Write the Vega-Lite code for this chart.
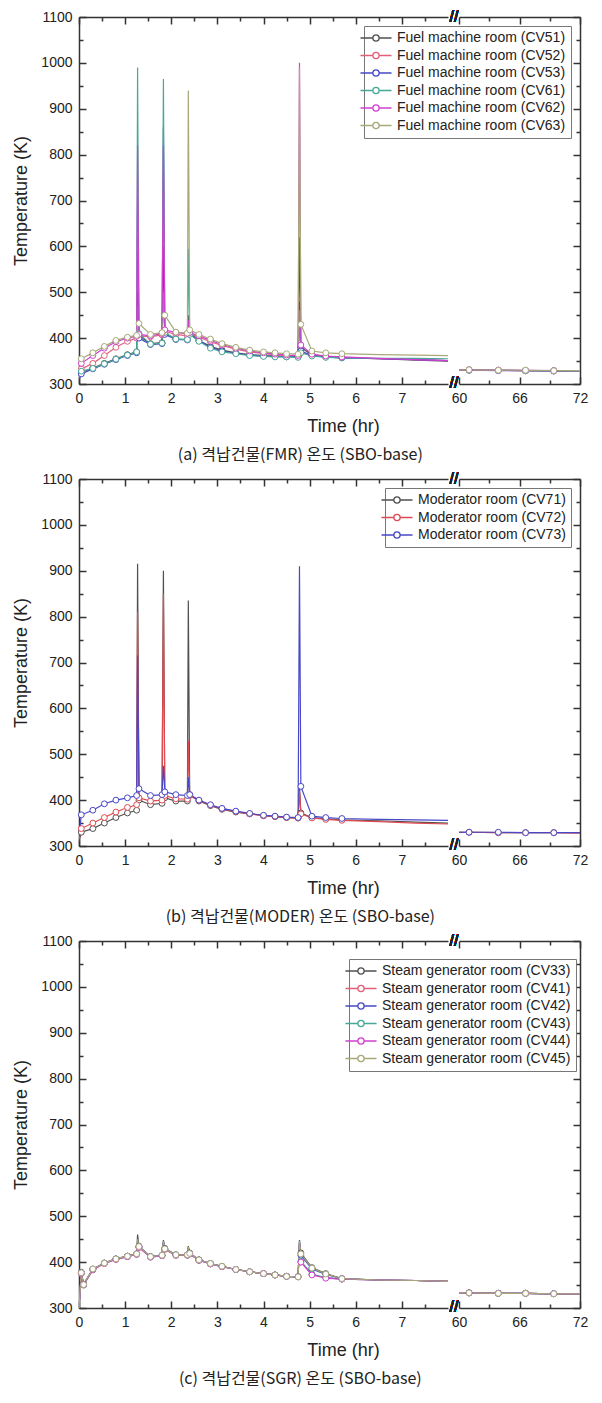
{
"$schema": "https://vega.github.io/schema/vega-lite/v6.json",
"padding": {"top": 9, "left": 12, "right": 20, "bottom": 5},
"config": {
  "font": "Liberation Sans",
  "view": {"stroke": null},
  "axis": {"labelFont": "Liberation Sans", "titleFont": "Liberation Sans", "labelFontSize": 14, "titleFontSize": 18, "titleFontWeight": "normal", "labelColor": "#222", "titleColor": "#222", "domainColor": "#333", "tickColor": "#333", "domainWidth": 1.5, "tickWidth": 1.5, "grid": false, "labelFlush": false, "labelOverlap": false, "labelPadding": 14},
  "legend": {"labelFont": "Liberation Sans", "labelFontSize": 14, "labelColor": "#222", "labelLimit": 400, "title": null, "symbolType": "M-3,0H-0.6M0.6,0H3M-0.6,0A0.6,0.6 0 1,0 0.6,0A0.6,0.6 0 1,0 -0.6,0", "symbolSize": 107, "symbolStrokeWidth": 1.3, "symbolFillColor": "white", "rowPadding": 3.5, "padding": 5, "strokeColor": "#777", "fillColor": "white", "labelOffset": 14},
  "title": {"font": "Noto Sans CJK KR", "fontSize": 16, "fontWeight": "normal", "color": "#222"}
},
"datasets": {
"a": [
{"s":"CV51","t":0,"T":312},{"s":"CV51","t":0.05,"T":325},{"s":"CV51","t":0.3,"T":335},{"s":"CV51","t":0.55,"T":345},{"s":"CV51","t":0.8,"T":355},{"s":"CV51","t":1.05,"T":364},{"s":"CV51","t":1.25,"T":370},{"s":"CV51","t":1.27,"T":500,"k":"p"},{"s":"CV51","t":1.3,"T":405},{"s":"CV51","t":1.55,"T":388},{"s":"CV51","t":1.8,"T":390},{"s":"CV51","t":1.83,"T":600,"k":"p"},{"s":"CV51","t":1.86,"T":410},{"s":"CV51","t":2.1,"T":398},{"s":"CV51","t":2.35,"T":397},{"s":"CV51","t":2.37,"T":450,"k":"p"},{"s":"CV51","t":2.4,"T":412},{"s":"CV51","t":2.6,"T":395},{"s":"CV51","t":2.85,"T":382},{"s":"CV51","t":3.1,"T":374},{"s":"CV51","t":3.4,"T":368},{"s":"CV51","t":3.7,"T":364},{"s":"CV51","t":4.0,"T":362},{"s":"CV51","t":4.25,"T":361},{"s":"CV51","t":4.5,"T":360},{"s":"CV51","t":4.75,"T":360},{"s":"CV51","t":4.78,"T":620,"k":"p"},{"s":"CV51","t":4.81,"T":380},{"s":"CV51","t":5.05,"T":363},{"s":"CV51","t":5.35,"T":360},{"s":"CV51","t":5.7,"T":358},{"s":"CV51","t":6.5,"T":355},{"s":"CV51","t":7.3,"T":352},{"s":"CV51","t":8,"T":350},{"s":"CV51","t":60,"T":331},{"s":"CV51","t":61,"T":331},{"s":"CV51","t":63.9,"T":330},{"s":"CV51","t":66.6,"T":329},{"s":"CV51","t":69.4,"T":329},{"s":"CV51","t":72,"T":328},
{"s":"CV52","t":0,"T":318},{"s":"CV52","t":0.05,"T":333},{"s":"CV52","t":0.3,"T":345},{"s":"CV52","t":0.55,"T":362},{"s":"CV52","t":0.8,"T":380},{"s":"CV52","t":1.05,"T":393},{"s":"CV52","t":1.25,"T":400},{"s":"CV52","t":1.27,"T":470,"k":"p"},{"s":"CV52","t":1.3,"T":405},{"s":"CV52","t":1.55,"T":403},{"s":"CV52","t":1.8,"T":407},{"s":"CV52","t":1.83,"T":500,"k":"p"},{"s":"CV52","t":1.86,"T":415},{"s":"CV52","t":2.1,"T":408},{"s":"CV52","t":2.35,"T":405},{"s":"CV52","t":2.37,"T":420,"k":"p"},{"s":"CV52","t":2.4,"T":410},{"s":"CV52","t":2.6,"T":402},{"s":"CV52","t":2.85,"T":392},{"s":"CV52","t":3.1,"T":384},{"s":"CV52","t":3.4,"T":376},{"s":"CV52","t":3.7,"T":370},{"s":"CV52","t":4.0,"T":366},{"s":"CV52","t":4.25,"T":364},{"s":"CV52","t":4.5,"T":362},{"s":"CV52","t":4.75,"T":361},{"s":"CV52","t":4.78,"T":440,"k":"p"},{"s":"CV52","t":4.81,"T":370},{"s":"CV52","t":5.05,"T":362},{"s":"CV52","t":5.35,"T":359},{"s":"CV52","t":5.7,"T":357},{"s":"CV52","t":6.5,"T":355},{"s":"CV52","t":7.3,"T":353},{"s":"CV52","t":8,"T":351},{"s":"CV52","t":60,"T":331},{"s":"CV52","t":61,"T":330},{"s":"CV52","t":63.9,"T":330},{"s":"CV52","t":66.6,"T":329},{"s":"CV52","t":69.4,"T":329},{"s":"CV52","t":72,"T":328},
{"s":"CV53","t":0,"T":310},{"s":"CV53","t":0.05,"T":322},{"s":"CV53","t":0.3,"T":333},{"s":"CV53","t":0.55,"T":343},{"s":"CV53","t":0.8,"T":353},{"s":"CV53","t":1.05,"T":362},{"s":"CV53","t":1.25,"T":368},{"s":"CV53","t":1.27,"T":700,"k":"p"},{"s":"CV53","t":1.3,"T":400},{"s":"CV53","t":1.55,"T":386},{"s":"CV53","t":1.8,"T":388},{"s":"CV53","t":1.83,"T":860,"k":"p"},{"s":"CV53","t":1.86,"T":408},{"s":"CV53","t":2.1,"T":397},{"s":"CV53","t":2.35,"T":396},{"s":"CV53","t":2.37,"T":430,"k":"p"},{"s":"CV53","t":2.4,"T":410},{"s":"CV53","t":2.6,"T":394},{"s":"CV53","t":2.85,"T":380},{"s":"CV53","t":3.1,"T":372},{"s":"CV53","t":3.4,"T":367},{"s":"CV53","t":3.7,"T":363},{"s":"CV53","t":4.0,"T":361},{"s":"CV53","t":4.25,"T":360},{"s":"CV53","t":4.5,"T":359},{"s":"CV53","t":4.75,"T":359},{"s":"CV53","t":4.78,"T":480,"k":"p"},{"s":"CV53","t":4.81,"T":372},{"s":"CV53","t":5.05,"T":362},{"s":"CV53","t":5.35,"T":359},{"s":"CV53","t":5.7,"T":357},{"s":"CV53","t":6.5,"T":355},{"s":"CV53","t":7.3,"T":353},{"s":"CV53","t":8,"T":351},{"s":"CV53","t":60,"T":330},{"s":"CV53","t":61,"T":330},{"s":"CV53","t":63.9,"T":329},{"s":"CV53","t":66.6,"T":329},{"s":"CV53","t":69.4,"T":328},{"s":"CV53","t":72,"T":328},
{"s":"CV61","t":0,"T":315},{"s":"CV61","t":0.05,"T":328},{"s":"CV61","t":0.3,"T":334},{"s":"CV61","t":0.55,"T":344},{"s":"CV61","t":0.8,"T":354},{"s":"CV61","t":1.05,"T":363},{"s":"CV61","t":1.25,"T":370},{"s":"CV61","t":1.27,"T":990,"k":"p"},{"s":"CV61","t":1.3,"T":410},{"s":"CV61","t":1.55,"T":387},{"s":"CV61","t":1.8,"T":389},{"s":"CV61","t":1.83,"T":965,"k":"p"},{"s":"CV61","t":1.86,"T":412},{"s":"CV61","t":2.1,"T":398},{"s":"CV61","t":2.35,"T":397},{"s":"CV61","t":2.37,"T":595,"k":"p"},{"s":"CV61","t":2.4,"T":408},{"s":"CV61","t":2.6,"T":393},{"s":"CV61","t":2.85,"T":378},{"s":"CV61","t":3.1,"T":370},{"s":"CV61","t":3.4,"T":366},{"s":"CV61","t":3.7,"T":362},{"s":"CV61","t":4.0,"T":360},{"s":"CV61","t":4.25,"T":359},{"s":"CV61","t":4.5,"T":359},{"s":"CV61","t":4.75,"T":358},{"s":"CV61","t":4.78,"T":460,"k":"p"},{"s":"CV61","t":4.81,"T":368},{"s":"CV61","t":5.05,"T":361},{"s":"CV61","t":5.35,"T":358},{"s":"CV61","t":5.7,"T":357},{"s":"CV61","t":6.5,"T":356},{"s":"CV61","t":7.3,"T":356},{"s":"CV61","t":8,"T":355},{"s":"CV61","t":60,"T":330},{"s":"CV61","t":61,"T":330},{"s":"CV61","t":63.9,"T":330},{"s":"CV61","t":66.6,"T":329},{"s":"CV61","t":69.4,"T":329},{"s":"CV61","t":72,"T":328},
{"s":"CV62","t":0,"T":335},{"s":"CV62","t":0.05,"T":345},{"s":"CV62","t":0.3,"T":362},{"s":"CV62","t":0.55,"T":378},{"s":"CV62","t":0.8,"T":392},{"s":"CV62","t":1.05,"T":400},{"s":"CV62","t":1.25,"T":404},{"s":"CV62","t":1.27,"T":820,"k":"p"},{"s":"CV62","t":1.3,"T":408},{"s":"CV62","t":1.55,"T":405},{"s":"CV62","t":1.8,"T":410},{"s":"CV62","t":1.83,"T":820,"k":"p"},{"s":"CV62","t":1.86,"T":418},{"s":"CV62","t":2.1,"T":412},{"s":"CV62","t":2.35,"T":410},{"s":"CV62","t":2.37,"T":440,"k":"p"},{"s":"CV62","t":2.4,"T":412},{"s":"CV62","t":2.6,"T":405},{"s":"CV62","t":2.85,"T":395},{"s":"CV62","t":3.1,"T":386},{"s":"CV62","t":3.4,"T":378},{"s":"CV62","t":3.7,"T":372},{"s":"CV62","t":4.0,"T":368},{"s":"CV62","t":4.25,"T":365},{"s":"CV62","t":4.5,"T":363},{"s":"CV62","t":4.75,"T":362},{"s":"CV62","t":4.78,"T":1000,"k":"p"},{"s":"CV62","t":4.81,"T":385},{"s":"CV62","t":5.05,"T":365},{"s":"CV62","t":5.35,"T":361},{"s":"CV62","t":5.7,"T":359},{"s":"CV62","t":6.5,"T":356},{"s":"CV62","t":7.3,"T":353},{"s":"CV62","t":8,"T":351},{"s":"CV62","t":60,"T":331},{"s":"CV62","t":61,"T":331},{"s":"CV62","t":63.9,"T":330},{"s":"CV62","t":66.6,"T":330},{"s":"CV62","t":69.4,"T":329},{"s":"CV62","t":72,"T":329},
{"s":"CV63","t":0,"T":345},{"s":"CV63","t":0.05,"T":355},{"s":"CV63","t":0.3,"T":368},{"s":"CV63","t":0.55,"T":382},{"s":"CV63","t":0.8,"T":395},{"s":"CV63","t":1.05,"T":402},{"s":"CV63","t":1.25,"T":406},{"s":"CV63","t":1.27,"T":430,"k":"p"},{"s":"CV63","t":1.3,"T":432},{"s":"CV63","t":1.55,"T":408},{"s":"CV63","t":1.8,"T":412},{"s":"CV63","t":1.83,"T":440,"k":"p"},{"s":"CV63","t":1.86,"T":450},{"s":"CV63","t":2.1,"T":413},{"s":"CV63","t":2.35,"T":411},{"s":"CV63","t":2.37,"T":940,"k":"p"},{"s":"CV63","t":2.4,"T":418},{"s":"CV63","t":2.6,"T":408},{"s":"CV63","t":2.85,"T":398},{"s":"CV63","t":3.1,"T":388},{"s":"CV63","t":3.4,"T":380},{"s":"CV63","t":3.7,"T":374},{"s":"CV63","t":4.0,"T":370},{"s":"CV63","t":4.25,"T":368},{"s":"CV63","t":4.5,"T":366},{"s":"CV63","t":4.75,"T":365},{"s":"CV63","t":4.78,"T":990,"k":"p"},{"s":"CV63","t":4.81,"T":430},{"s":"CV63","t":5.05,"T":372},{"s":"CV63","t":5.35,"T":368},{"s":"CV63","t":5.7,"T":366},{"s":"CV63","t":6.5,"T":364},{"s":"CV63","t":7.3,"T":363},{"s":"CV63","t":8,"T":362},{"s":"CV63","t":60,"T":331},{"s":"CV63","t":61,"T":331},{"s":"CV63","t":63.9,"T":330},{"s":"CV63","t":66.6,"T":330},{"s":"CV63","t":69.4,"T":329},{"s":"CV63","t":72,"T":329}
],
"b": [
{"s":"CV71","t":0,"T":310},{"s":"CV71","t":0.05,"T":330},{"s":"CV71","t":0.3,"T":338},{"s":"CV71","t":0.55,"T":350},{"s":"CV71","t":0.8,"T":362},{"s":"CV71","t":1.05,"T":372},{"s":"CV71","t":1.25,"T":378},{"s":"CV71","t":1.27,"T":915,"k":"p"},{"s":"CV71","t":1.3,"T":400},{"s":"CV71","t":1.55,"T":390},{"s":"CV71","t":1.8,"T":393},{"s":"CV71","t":1.83,"T":900,"k":"p"},{"s":"CV71","t":1.86,"T":405},{"s":"CV71","t":2.1,"T":398},{"s":"CV71","t":2.35,"T":398},{"s":"CV71","t":2.37,"T":835,"k":"p"},{"s":"CV71","t":2.4,"T":412},{"s":"CV71","t":2.6,"T":398},{"s":"CV71","t":2.85,"T":388},{"s":"CV71","t":3.1,"T":380},{"s":"CV71","t":3.4,"T":374},{"s":"CV71","t":3.7,"T":370},{"s":"CV71","t":4.0,"T":366},{"s":"CV71","t":4.25,"T":364},{"s":"CV71","t":4.5,"T":362},{"s":"CV71","t":4.75,"T":361},{"s":"CV71","t":4.78,"T":430,"k":"p"},{"s":"CV71","t":4.81,"T":372},{"s":"CV71","t":5.05,"T":362},{"s":"CV71","t":5.35,"T":359},{"s":"CV71","t":5.7,"T":357},{"s":"CV71","t":6.5,"T":355},{"s":"CV71","t":7.3,"T":352},{"s":"CV71","t":8,"T":350},{"s":"CV71","t":60,"T":330},{"s":"CV71","t":61,"T":330},{"s":"CV71","t":63.9,"T":329},{"s":"CV71","t":66.6,"T":329},{"s":"CV71","t":69.4,"T":329},{"s":"CV71","t":72,"T":329},
{"s":"CV72","t":0,"T":315},{"s":"CV72","t":0.05,"T":338},{"s":"CV72","t":0.3,"T":350},{"s":"CV72","t":0.55,"T":362},{"s":"CV72","t":0.8,"T":374},{"s":"CV72","t":1.05,"T":384},{"s":"CV72","t":1.25,"T":390},{"s":"CV72","t":1.27,"T":810,"k":"p"},{"s":"CV72","t":1.3,"T":405},{"s":"CV72","t":1.55,"T":398},{"s":"CV72","t":1.8,"T":400},{"s":"CV72","t":1.83,"T":850,"k":"p"},{"s":"CV72","t":1.86,"T":410},{"s":"CV72","t":2.1,"T":403},{"s":"CV72","t":2.35,"T":402},{"s":"CV72","t":2.37,"T":530,"k":"p"},{"s":"CV72","t":2.4,"T":410},{"s":"CV72","t":2.6,"T":399},{"s":"CV72","t":2.85,"T":389},{"s":"CV72","t":3.1,"T":381},{"s":"CV72","t":3.4,"T":375},{"s":"CV72","t":3.7,"T":370},{"s":"CV72","t":4.0,"T":366},{"s":"CV72","t":4.25,"T":364},{"s":"CV72","t":4.5,"T":362},{"s":"CV72","t":4.75,"T":361},{"s":"CV72","t":4.78,"T":420,"k":"p"},{"s":"CV72","t":4.81,"T":370},{"s":"CV72","t":5.05,"T":361},{"s":"CV72","t":5.35,"T":358},{"s":"CV72","t":5.7,"T":356},{"s":"CV72","t":6.5,"T":353},{"s":"CV72","t":7.3,"T":350},{"s":"CV72","t":8,"T":348},{"s":"CV72","t":60,"T":330},{"s":"CV72","t":61,"T":330},{"s":"CV72","t":63.9,"T":329},{"s":"CV72","t":66.6,"T":329},{"s":"CV72","t":69.4,"T":329},{"s":"CV72","t":72,"T":328},
{"s":"CV73","t":0,"T":320},{"s":"CV73","t":0.05,"T":368},{"s":"CV73","t":0.3,"T":378},{"s":"CV73","t":0.55,"T":392},{"s":"CV73","t":0.8,"T":400},{"s":"CV73","t":1.05,"T":405},{"s":"CV73","t":1.25,"T":410},{"s":"CV73","t":1.27,"T":715,"k":"p"},{"s":"CV73","t":1.3,"T":425},{"s":"CV73","t":1.55,"T":410},{"s":"CV73","t":1.8,"T":412},{"s":"CV73","t":1.83,"T":475,"k":"p"},{"s":"CV73","t":1.86,"T":418},{"s":"CV73","t":2.1,"T":412},{"s":"CV73","t":2.35,"T":410},{"s":"CV73","t":2.37,"T":450,"k":"p"},{"s":"CV73","t":2.4,"T":412},{"s":"CV73","t":2.6,"T":400},{"s":"CV73","t":2.85,"T":390},{"s":"CV73","t":3.1,"T":382},{"s":"CV73","t":3.4,"T":376},{"s":"CV73","t":3.7,"T":371},{"s":"CV73","t":4.0,"T":367},{"s":"CV73","t":4.25,"T":365},{"s":"CV73","t":4.5,"T":363},{"s":"CV73","t":4.75,"T":362},{"s":"CV73","t":4.78,"T":910,"k":"p"},{"s":"CV73","t":4.81,"T":430},{"s":"CV73","t":5.05,"T":365},{"s":"CV73","t":5.35,"T":362},{"s":"CV73","t":5.7,"T":360},{"s":"CV73","t":6.5,"T":358},{"s":"CV73","t":7.3,"T":357},{"s":"CV73","t":8,"T":356},{"s":"CV73","t":60,"T":330},{"s":"CV73","t":61,"T":330},{"s":"CV73","t":63.9,"T":330},{"s":"CV73","t":66.6,"T":329},{"s":"CV73","t":69.4,"T":329},{"s":"CV73","t":72,"T":329}
],
"c": [
{"s":"CV33","t":0,"T":300},{"s":"CV33","t":0.05,"T":378},{"s":"CV33","t":0.1,"T":352},{"s":"CV33","t":0.3,"T":385},{"s":"CV33","t":0.55,"T":398},{"s":"CV33","t":0.8,"T":407},{"s":"CV33","t":1.05,"T":413},{"s":"CV33","t":1.25,"T":418},{"s":"CV33","t":1.27,"T":460,"k":"p"},{"s":"CV33","t":1.3,"T":435},{"s":"CV33","t":1.55,"T":412},{"s":"CV33","t":1.8,"T":415},{"s":"CV33","t":1.83,"T":448,"k":"p"},{"s":"CV33","t":1.86,"T":430},{"s":"CV33","t":2.1,"T":416},{"s":"CV33","t":2.35,"T":416},{"s":"CV33","t":2.37,"T":435,"k":"p"},{"s":"CV33","t":2.4,"T":420},{"s":"CV33","t":2.6,"T":405},{"s":"CV33","t":2.85,"T":397},{"s":"CV33","t":3.1,"T":391},{"s":"CV33","t":3.4,"T":384},{"s":"CV33","t":3.7,"T":379},{"s":"CV33","t":4.0,"T":375},{"s":"CV33","t":4.25,"T":372},{"s":"CV33","t":4.5,"T":369},{"s":"CV33","t":4.75,"T":368},{"s":"CV33","t":4.78,"T":448,"k":"p"},{"s":"CV33","t":4.81,"T":420},{"s":"CV33","t":5.05,"T":388},{"s":"CV33","t":5.35,"T":375},{"s":"CV33","t":5.7,"T":364},{"s":"CV33","t":6.5,"T":361},{"s":"CV33","t":7.3,"T":360},{"s":"CV33","t":8,"T":358},{"s":"CV33","t":60,"T":333},{"s":"CV33","t":61,"T":333},{"s":"CV33","t":63.9,"T":332},{"s":"CV33","t":66.6,"T":332},{"s":"CV33","t":69.4,"T":331},{"s":"CV33","t":72,"T":331},
{"s":"CV41","t":0,"T":300},{"s":"CV41","t":0.05,"T":375},{"s":"CV41","t":0.1,"T":350},{"s":"CV41","t":0.3,"T":383},{"s":"CV41","t":0.55,"T":397},{"s":"CV41","t":0.8,"T":406},{"s":"CV41","t":1.05,"T":412},{"s":"CV41","t":1.25,"T":417},{"s":"CV41","t":1.27,"T":440,"k":"p"},{"s":"CV41","t":1.3,"T":432},{"s":"CV41","t":1.55,"T":411},{"s":"CV41","t":1.8,"T":414},{"s":"CV41","t":1.83,"T":440,"k":"p"},{"s":"CV41","t":1.86,"T":428},{"s":"CV41","t":2.1,"T":415},{"s":"CV41","t":2.35,"T":415},{"s":"CV41","t":2.37,"T":430,"k":"p"},{"s":"CV41","t":2.4,"T":418},{"s":"CV41","t":2.6,"T":404},{"s":"CV41","t":2.85,"T":396},{"s":"CV41","t":3.1,"T":390},{"s":"CV41","t":3.4,"T":384},{"s":"CV41","t":3.7,"T":379},{"s":"CV41","t":4.0,"T":375},{"s":"CV41","t":4.25,"T":372},{"s":"CV41","t":4.5,"T":369},{"s":"CV41","t":4.75,"T":368},{"s":"CV41","t":4.78,"T":440,"k":"p"},{"s":"CV41","t":4.81,"T":400},{"s":"CV41","t":5.05,"T":373},{"s":"CV41","t":5.35,"T":366},{"s":"CV41","t":5.7,"T":363},{"s":"CV41","t":6.5,"T":361},{"s":"CV41","t":7.3,"T":360},{"s":"CV41","t":8,"T":358},{"s":"CV41","t":60,"T":333},{"s":"CV41","t":61,"T":333},{"s":"CV41","t":63.9,"T":332},{"s":"CV41","t":66.6,"T":332},{"s":"CV41","t":69.4,"T":331},{"s":"CV41","t":72,"T":331},
{"s":"CV42","t":0,"T":300},{"s":"CV42","t":0.05,"T":377},{"s":"CV42","t":0.1,"T":351},{"s":"CV42","t":0.3,"T":384},{"s":"CV42","t":0.55,"T":398},{"s":"CV42","t":0.8,"T":407},{"s":"CV42","t":1.05,"T":413},{"s":"CV42","t":1.25,"T":418},{"s":"CV42","t":1.27,"T":445,"k":"p"},{"s":"CV42","t":1.3,"T":434},{"s":"CV42","t":1.55,"T":412},{"s":"CV42","t":1.8,"T":415},{"s":"CV42","t":1.83,"T":445,"k":"p"},{"s":"CV42","t":1.86,"T":429},{"s":"CV42","t":2.1,"T":416},{"s":"CV42","t":2.35,"T":416},{"s":"CV42","t":2.37,"T":432,"k":"p"},{"s":"CV42","t":2.4,"T":419},{"s":"CV42","t":2.6,"T":405},{"s":"CV42","t":2.85,"T":397},{"s":"CV42","t":3.1,"T":391},{"s":"CV42","t":3.4,"T":384},{"s":"CV42","t":3.7,"T":379},{"s":"CV42","t":4.0,"T":375},{"s":"CV42","t":4.25,"T":372},{"s":"CV42","t":4.5,"T":369},{"s":"CV42","t":4.75,"T":368},{"s":"CV42","t":4.78,"T":445,"k":"p"},{"s":"CV42","t":4.81,"T":415},{"s":"CV42","t":5.05,"T":385},{"s":"CV42","t":5.35,"T":373},{"s":"CV42","t":5.7,"T":364},{"s":"CV42","t":6.5,"T":361},{"s":"CV42","t":7.3,"T":360},{"s":"CV42","t":8,"T":358},{"s":"CV42","t":60,"T":333},{"s":"CV42","t":61,"T":333},{"s":"CV42","t":63.9,"T":332},{"s":"CV42","t":66.6,"T":332},{"s":"CV42","t":69.4,"T":331},{"s":"CV42","t":72,"T":331},
{"s":"CV43","t":0,"T":300},{"s":"CV43","t":0.05,"T":376},{"s":"CV43","t":0.1,"T":350},{"s":"CV43","t":0.3,"T":384},{"s":"CV43","t":0.55,"T":398},{"s":"CV43","t":0.8,"T":407},{"s":"CV43","t":1.05,"T":412},{"s":"CV43","t":1.25,"T":417},{"s":"CV43","t":1.27,"T":442,"k":"p"},{"s":"CV43","t":1.3,"T":433},{"s":"CV43","t":1.55,"T":411},{"s":"CV43","t":1.8,"T":414},{"s":"CV43","t":1.83,"T":442,"k":"p"},{"s":"CV43","t":1.86,"T":428},{"s":"CV43","t":2.1,"T":415},{"s":"CV43","t":2.35,"T":415},{"s":"CV43","t":2.37,"T":431,"k":"p"},{"s":"CV43","t":2.4,"T":418},{"s":"CV43","t":2.6,"T":404},{"s":"CV43","t":2.85,"T":396},{"s":"CV43","t":3.1,"T":390},{"s":"CV43","t":3.4,"T":384},{"s":"CV43","t":3.7,"T":379},{"s":"CV43","t":4.0,"T":375},{"s":"CV43","t":4.25,"T":372},{"s":"CV43","t":4.5,"T":369},{"s":"CV43","t":4.75,"T":368},{"s":"CV43","t":4.78,"T":442,"k":"p"},{"s":"CV43","t":4.81,"T":402},{"s":"CV43","t":5.05,"T":374},{"s":"CV43","t":5.35,"T":366},{"s":"CV43","t":5.7,"T":363},{"s":"CV43","t":6.5,"T":361},{"s":"CV43","t":7.3,"T":360},{"s":"CV43","t":8,"T":358},{"s":"CV43","t":60,"T":333},{"s":"CV43","t":61,"T":333},{"s":"CV43","t":63.9,"T":332},{"s":"CV43","t":66.6,"T":332},{"s":"CV43","t":69.4,"T":331},{"s":"CV43","t":72,"T":331},
{"s":"CV44","t":0,"T":300},{"s":"CV44","t":0.05,"T":376},{"s":"CV44","t":0.1,"T":351},{"s":"CV44","t":0.3,"T":384},{"s":"CV44","t":0.55,"T":397},{"s":"CV44","t":0.8,"T":406},{"s":"CV44","t":1.05,"T":412},{"s":"CV44","t":1.25,"T":417},{"s":"CV44","t":1.27,"T":440,"k":"p"},{"s":"CV44","t":1.3,"T":432},{"s":"CV44","t":1.55,"T":411},{"s":"CV44","t":1.8,"T":414},{"s":"CV44","t":1.83,"T":440,"k":"p"},{"s":"CV44","t":1.86,"T":428},{"s":"CV44","t":2.1,"T":415},{"s":"CV44","t":2.35,"T":415},{"s":"CV44","t":2.37,"T":430,"k":"p"},{"s":"CV44","t":2.4,"T":418},{"s":"CV44","t":2.6,"T":404},{"s":"CV44","t":2.85,"T":396},{"s":"CV44","t":3.1,"T":390},{"s":"CV44","t":3.4,"T":384},{"s":"CV44","t":3.7,"T":379},{"s":"CV44","t":4.0,"T":375},{"s":"CV44","t":4.25,"T":372},{"s":"CV44","t":4.5,"T":369},{"s":"CV44","t":4.75,"T":368},{"s":"CV44","t":4.78,"T":440,"k":"p"},{"s":"CV44","t":4.81,"T":400},{"s":"CV44","t":5.05,"T":372},{"s":"CV44","t":5.35,"T":365},{"s":"CV44","t":5.7,"T":363},{"s":"CV44","t":6.5,"T":361},{"s":"CV44","t":7.3,"T":360},{"s":"CV44","t":8,"T":358},{"s":"CV44","t":60,"T":333},{"s":"CV44","t":61,"T":333},{"s":"CV44","t":63.9,"T":332},{"s":"CV44","t":66.6,"T":332},{"s":"CV44","t":69.4,"T":331},{"s":"CV44","t":72,"T":331},
{"s":"CV45","t":0,"T":300},{"s":"CV45","t":0.05,"T":377},{"s":"CV45","t":0.1,"T":351},{"s":"CV45","t":0.3,"T":385},{"s":"CV45","t":0.55,"T":398},{"s":"CV45","t":0.8,"T":407},{"s":"CV45","t":1.05,"T":413},{"s":"CV45","t":1.25,"T":418},{"s":"CV45","t":1.27,"T":450,"k":"p"},{"s":"CV45","t":1.3,"T":434},{"s":"CV45","t":1.55,"T":412},{"s":"CV45","t":1.8,"T":415},{"s":"CV45","t":1.83,"T":446,"k":"p"},{"s":"CV45","t":1.86,"T":429},{"s":"CV45","t":2.1,"T":416},{"s":"CV45","t":2.35,"T":416},{"s":"CV45","t":2.37,"T":433,"k":"p"},{"s":"CV45","t":2.4,"T":419},{"s":"CV45","t":2.6,"T":405},{"s":"CV45","t":2.85,"T":397},{"s":"CV45","t":3.1,"T":391},{"s":"CV45","t":3.4,"T":384},{"s":"CV45","t":3.7,"T":379},{"s":"CV45","t":4.0,"T":375},{"s":"CV45","t":4.25,"T":372},{"s":"CV45","t":4.5,"T":369},{"s":"CV45","t":4.75,"T":368},{"s":"CV45","t":4.78,"T":446,"k":"p"},{"s":"CV45","t":4.81,"T":418},{"s":"CV45","t":5.05,"T":387},{"s":"CV45","t":5.35,"T":374},{"s":"CV45","t":5.7,"T":364},{"s":"CV45","t":6.5,"T":361},{"s":"CV45","t":7.3,"T":360},{"s":"CV45","t":8,"T":358},{"s":"CV45","t":60,"T":333},{"s":"CV45","t":61,"T":333},{"s":"CV45","t":63.9,"T":332},{"s":"CV45","t":66.6,"T":332},{"s":"CV45","t":69.4,"T":331},{"s":"CV45","t":72,"T":331}
]
},
"spacing": 8,
"resolve": {"scale": {"color": "independent"}, "legend": {"color": "independent"}},
"vconcat": [
{
 "data": {"name": "a"},
 "title": {"text": "(a) 격납건물(FMR) 온도 (SBO-base)", "orient": "bottom", "anchor": "middle", "offset": 12},
 "spacing": 11,
 "bounds": "flush",
 "resolve": {"scale": {"color": "independent"}, "legend": {"color": "independent"}},
 "hconcat": [
  {
   "width": 369, "height": 367,
   "transform": [{"filter": "datum.t <= 8"}],
   "layer": [
    {
     "mark": {"type": "line", "strokeWidth": 1.2, "clip": true},
     "encoding": {
      "x": {"field": "t", "type": "quantitative", "scale": {"domain": [0, 8], "nice": false, "zero": false},
            "axis": {"orient": "bottom", "values": [0,0.5,1,1.5,2,2.5,3,3.5,4,4.5,5,5.5,6,6.5,7,7.5], "labelExpr": "datum.value % 1 == 0 ? '' + datum.value : ''", "tickSize": {"condition": {"test": "datum.value % 1 == 0", "value": -7}, "value": -4}, "title": "Time (hr)", "titleX": 264, "titlePadding": 9}},
      "y": {"field": "T", "type": "quantitative", "scale": {"domain": [300, 1100], "nice": false, "zero": false},
            "axis": {"values": [300,350,400,450,500,550,600,650,700,750,800,850,900,950,1000,1050,1100], "labelExpr": "datum.value % 100 == 0 ? '' + datum.value : ''", "tickSize": {"condition": {"test": "datum.value % 100 == 0", "value": -7}, "value": -4}, "title": "Temperature (K)", "titlePadding": 10}},
      "color": {"field": "s", "type": "nominal", "scale": {"domain": ["CV51","CV52","CV53","CV61","CV62","CV63"], "range": ["#505050","#e0607a","#4848c8","#48a898","#d040d0","#a8a878"]}, "legend": null}
     }
    },
    {
     "transform": [{"filter": "datum.k != 'p' && datum.t > 0 && datum.t < 5.8"}],
     "mark": {"type": "point", "shape": "circle", "filled": false, "fill": "white", "fillOpacity": 1, "size": 34, "strokeWidth": 1},
     "encoding": {
      "x": {"field": "t", "type": "quantitative", "axis": {"orient": "top", "values": [0,0.5,1,1.5,2,2.5,3,3.5,4,4.5,5,5.5,6,6.5,7,7.5], "labels": false, "title": null, "tickSize": {"condition": {"test": "datum.value % 1 == 0", "value": -7}, "value": -4}}},
      "y": {"field": "T", "type": "quantitative", "axis": null},
      "color": {"field": "s", "type": "nominal", "legend": null}
     }
    }
   ],
   "resolve": {"axis": {"x": "independent", "y": "independent"}}
  },
  {
   "width": 121, "height": 367,
   "transform": [{"filter": "datum.t >= 60"}],
   "layer": [
    {
     "mark": {"type": "line", "strokeWidth": 1.2, "clip": true},
     "encoding": {
      "x": {"field": "t", "type": "quantitative", "scale": {"domain": [60, 72], "nice": false, "zero": false},
            "axis": {"orient": "bottom", "values": [60,63,66,69,72], "labelExpr": "datum.value % 6 == 0 ? '' + datum.value : ''", "tickSize": {"condition": {"test": "datum.value % 6 == 0", "value": -7}, "value": -4}, "title": null}},
      "y": {"field": "T", "type": "quantitative", "scale": {"domain": [300, 1100], "nice": false, "zero": false},
            "axis": {"orient": "right", "values": [300,350,400,450,500,550,600,650,700,750,800,850,900,950,1000,1050,1100], "labels": false, "tickSize": {"condition": {"test": "datum.value % 100 == 0", "value": -7}, "value": -4}, "title": null}},
      "color": {"field": "s", "type": "nominal", "scale": {"domain": ["CV51","CV52","CV53","CV61","CV62","CV63"], "range": ["#505050","#e0607a","#4848c8","#48a898","#d040d0","#a8a878"]},
                "legend": {"orient": "top-right", "offset": 9, "labelExpr": "'Fuel machine room (' + datum.label + ')'"}}
     }
    },
    {
     "transform": [{"filter": "datum.t > 60 && datum.t < 72"}],
     "mark": {"type": "point", "shape": "circle", "filled": false, "fill": "white", "fillOpacity": 1, "size": 34, "strokeWidth": 1},
     "encoding": {
      "x": {"field": "t", "type": "quantitative", "axis": {"orient": "top", "values": [60,63,66,69,72], "labels": false, "title": null, "tickSize": {"condition": {"test": "datum.value % 6 == 0", "value": -7}, "value": -4}}},
      "y": {"field": "T", "type": "quantitative", "axis": null},
      "color": {"field": "s", "type": "nominal"}
     }
    },
    {"mark": {"type": "text", "text": "//", "dx": -5, "dy": -1, "fontSize": 16, "color": "#222", "baseline": "middle", "clip": false}, "encoding": {"x": {"datum": 60, "axis": null}, "y": {"datum": 300, "axis": null}}},
    {"mark": {"type": "text", "text": "//", "dx": -5, "fontSize": 16, "color": "#222", "baseline": "middle", "clip": false}, "encoding": {"x": {"datum": 60, "axis": null}, "y": {"datum": 1100, "axis": null}}}
   ],
   "resolve": {"axis": {"x": "independent", "y": "independent"}}
  }
 ]
},
{
 "data": {"name": "b"},
 "title": {"text": "(b) 격납건물(MODER) 온도 (SBO-base)", "orient": "bottom", "anchor": "middle", "offset": 12},
 "spacing": 11,
 "bounds": "flush",
 "resolve": {"scale": {"color": "independent"}, "legend": {"color": "independent"}},
 "hconcat": [
  {
   "width": 369, "height": 367,
   "transform": [{"filter": "datum.t <= 8"}],
   "layer": [
    {
     "mark": {"type": "line", "strokeWidth": 1.2, "clip": true},
     "encoding": {
      "x": {"field": "t", "type": "quantitative", "scale": {"domain": [0, 8], "nice": false, "zero": false},
            "axis": {"orient": "bottom", "values": [0,0.5,1,1.5,2,2.5,3,3.5,4,4.5,5,5.5,6,6.5,7,7.5], "labelExpr": "datum.value % 1 == 0 ? '' + datum.value : ''", "tickSize": {"condition": {"test": "datum.value % 1 == 0", "value": -7}, "value": -4}, "title": "Time (hr)", "titleX": 264, "titlePadding": 9}},
      "y": {"field": "T", "type": "quantitative", "scale": {"domain": [300, 1100], "nice": false, "zero": false},
            "axis": {"values": [300,350,400,450,500,550,600,650,700,750,800,850,900,950,1000,1050,1100], "labelExpr": "datum.value % 100 == 0 ? '' + datum.value : ''", "tickSize": {"condition": {"test": "datum.value % 100 == 0", "value": -7}, "value": -4}, "title": "Temperature (K)", "titlePadding": 10}},
      "color": {"field": "s", "type": "nominal", "scale": {"domain": ["CV71","CV72","CV73"], "range": ["#505050","#e04a50","#4848c8"]}, "legend": null}
     }
    },
    {
     "transform": [{"filter": "datum.k != 'p' && datum.t > 0 && datum.t < 5.8"}],
     "mark": {"type": "point", "shape": "circle", "filled": false, "fill": "white", "fillOpacity": 1, "size": 34, "strokeWidth": 1},
     "encoding": {
      "x": {"field": "t", "type": "quantitative", "axis": {"orient": "top", "values": [0,0.5,1,1.5,2,2.5,3,3.5,4,4.5,5,5.5,6,6.5,7,7.5], "labels": false, "title": null, "tickSize": {"condition": {"test": "datum.value % 1 == 0", "value": -7}, "value": -4}}},
      "y": {"field": "T", "type": "quantitative", "axis": null},
      "color": {"field": "s", "type": "nominal", "legend": null}
     }
    }
   ],
   "resolve": {"axis": {"x": "independent", "y": "independent"}}
  },
  {
   "width": 121, "height": 367,
   "transform": [{"filter": "datum.t >= 60"}],
   "layer": [
    {
     "mark": {"type": "line", "strokeWidth": 1.2, "clip": true},
     "encoding": {
      "x": {"field": "t", "type": "quantitative", "scale": {"domain": [60, 72], "nice": false, "zero": false},
            "axis": {"orient": "bottom", "values": [60,63,66,69,72], "labelExpr": "datum.value % 6 == 0 ? '' + datum.value : ''", "tickSize": {"condition": {"test": "datum.value % 6 == 0", "value": -7}, "value": -4}, "title": null}},
      "y": {"field": "T", "type": "quantitative", "scale": {"domain": [300, 1100], "nice": false, "zero": false},
            "axis": {"orient": "right", "values": [300,350,400,450,500,550,600,650,700,750,800,850,900,950,1000,1050,1100], "labels": false, "tickSize": {"condition": {"test": "datum.value % 100 == 0", "value": -7}, "value": -4}, "title": null}},
      "color": {"field": "s", "type": "nominal", "scale": {"domain": ["CV71","CV72","CV73"], "range": ["#505050","#e04a50","#4848c8"]},
                "legend": {"orient": "top-right", "offset": 9, "labelExpr": "'Moderator room (' + datum.label + ')'"}}
     }
    },
    {
     "transform": [{"filter": "datum.t > 60 && datum.t < 72"}],
     "mark": {"type": "point", "shape": "circle", "filled": false, "fill": "white", "fillOpacity": 1, "size": 34, "strokeWidth": 1},
     "encoding": {
      "x": {"field": "t", "type": "quantitative", "axis": {"orient": "top", "values": [60,63,66,69,72], "labels": false, "title": null, "tickSize": {"condition": {"test": "datum.value % 6 == 0", "value": -7}, "value": -4}}},
      "y": {"field": "T", "type": "quantitative", "axis": null},
      "color": {"field": "s", "type": "nominal"}
     }
    },
    {"mark": {"type": "text", "text": "//", "dx": -5, "dy": -1, "fontSize": 16, "color": "#222", "baseline": "middle", "clip": false}, "encoding": {"x": {"datum": 60, "axis": null}, "y": {"datum": 300, "axis": null}}},
    {"mark": {"type": "text", "text": "//", "dx": -5, "fontSize": 16, "color": "#222", "baseline": "middle", "clip": false}, "encoding": {"x": {"datum": 60, "axis": null}, "y": {"datum": 1100, "axis": null}}}
   ],
   "resolve": {"axis": {"x": "independent", "y": "independent"}}
  }
 ]
},
{
 "data": {"name": "c"},
 "title": {"text": "(c) 격납건물(SGR) 온도 (SBO-base)", "orient": "bottom", "anchor": "middle", "offset": 12},
 "spacing": 11,
 "bounds": "flush",
 "resolve": {"scale": {"color": "independent"}, "legend": {"color": "independent"}},
 "hconcat": [
  {
   "width": 369, "height": 367,
   "transform": [{"filter": "datum.t <= 8"}],
   "layer": [
    {
     "mark": {"type": "line", "strokeWidth": 1.2, "clip": true},
     "encoding": {
      "x": {"field": "t", "type": "quantitative", "scale": {"domain": [0, 8], "nice": false, "zero": false},
            "axis": {"orient": "bottom", "values": [0,0.5,1,1.5,2,2.5,3,3.5,4,4.5,5,5.5,6,6.5,7,7.5], "labelExpr": "datum.value % 1 == 0 ? '' + datum.value : ''", "tickSize": {"condition": {"test": "datum.value % 1 == 0", "value": -7}, "value": -4}, "title": "Time (hr)", "titleX": 264, "titlePadding": 9}},
      "y": {"field": "T", "type": "quantitative", "scale": {"domain": [300, 1100], "nice": false, "zero": false},
            "axis": {"values": [300,350,400,450,500,550,600,650,700,750,800,850,900,950,1000,1050,1100], "labelExpr": "datum.value % 100 == 0 ? '' + datum.value : ''", "tickSize": {"condition": {"test": "datum.value % 100 == 0", "value": -7}, "value": -4}, "title": "Temperature (K)", "titlePadding": 10}},
      "color": {"field": "s", "type": "nominal", "scale": {"domain": ["CV33","CV41","CV42","CV43","CV44","CV45"], "range": ["#505050","#e0607a","#4848c8","#48a898","#d040d0","#a8a878"]}, "legend": null}
     }
    },
    {
     "transform": [{"filter": "datum.k != 'p' && datum.t > 0 && datum.t < 5.8"}],
     "mark": {"type": "point", "shape": "circle", "filled": false, "fill": "white", "fillOpacity": 1, "size": 34, "strokeWidth": 1},
     "encoding": {
      "x": {"field": "t", "type": "quantitative", "axis": {"orient": "top", "values": [0,0.5,1,1.5,2,2.5,3,3.5,4,4.5,5,5.5,6,6.5,7,7.5], "labels": false, "title": null, "tickSize": {"condition": {"test": "datum.value % 1 == 0", "value": -7}, "value": -4}}},
      "y": {"field": "T", "type": "quantitative", "axis": null},
      "color": {"field": "s", "type": "nominal", "legend": null}
     }
    }
   ],
   "resolve": {"axis": {"x": "independent", "y": "independent"}}
  },
  {
   "width": 121, "height": 367,
   "transform": [{"filter": "datum.t >= 60"}],
   "layer": [
    {
     "mark": {"type": "line", "strokeWidth": 1.2, "clip": true},
     "encoding": {
      "x": {"field": "t", "type": "quantitative", "scale": {"domain": [60, 72], "nice": false, "zero": false},
            "axis": {"orient": "bottom", "values": [60,63,66,69,72], "labelExpr": "datum.value % 6 == 0 ? '' + datum.value : ''", "tickSize": {"condition": {"test": "datum.value % 6 == 0", "value": -7}, "value": -4}, "title": null}},
      "y": {"field": "T", "type": "quantitative", "scale": {"domain": [300, 1100], "nice": false, "zero": false},
            "axis": {"orient": "right", "values": [300,350,400,450,500,550,600,650,700,750,800,850,900,950,1000,1050,1100], "labels": false, "tickSize": {"condition": {"test": "datum.value % 100 == 0", "value": -7}, "value": -4}, "title": null}},
      "color": {"field": "s", "type": "nominal", "scale": {"domain": ["CV33","CV41","CV42","CV43","CV44","CV45"], "range": ["#505050","#e0607a","#4848c8","#48a898","#d040d0","#a8a878"]},
                "legend": {"orient": "none", "legendX": -110, "legendY": 18, "labelExpr": "'Steam generator room (' + datum.label + ')'"}}
     }
    },
    {
     "transform": [{"filter": "datum.t > 60 && datum.t < 72"}],
     "mark": {"type": "point", "shape": "circle", "filled": false, "fill": "white", "fillOpacity": 1, "size": 34, "strokeWidth": 1},
     "encoding": {
      "x": {"field": "t", "type": "quantitative", "axis": {"orient": "top", "values": [60,63,66,69,72], "labels": false, "title": null, "tickSize": {"condition": {"test": "datum.value % 6 == 0", "value": -7}, "value": -4}}},
      "y": {"field": "T", "type": "quantitative", "axis": null},
      "color": {"field": "s", "type": "nominal"}
     }
    },
    {"mark": {"type": "text", "text": "//", "dx": -5, "dy": -1, "fontSize": 16, "color": "#222", "baseline": "middle", "clip": false}, "encoding": {"x": {"datum": 60, "axis": null}, "y": {"datum": 300, "axis": null}}},
    {"mark": {"type": "text", "text": "//", "dx": -5, "fontSize": 16, "color": "#222", "baseline": "middle", "clip": false}, "encoding": {"x": {"datum": 60, "axis": null}, "y": {"datum": 1100, "axis": null}}}
   ],
   "resolve": {"axis": {"x": "independent", "y": "independent"}}
  }
 ]
}
]
}
